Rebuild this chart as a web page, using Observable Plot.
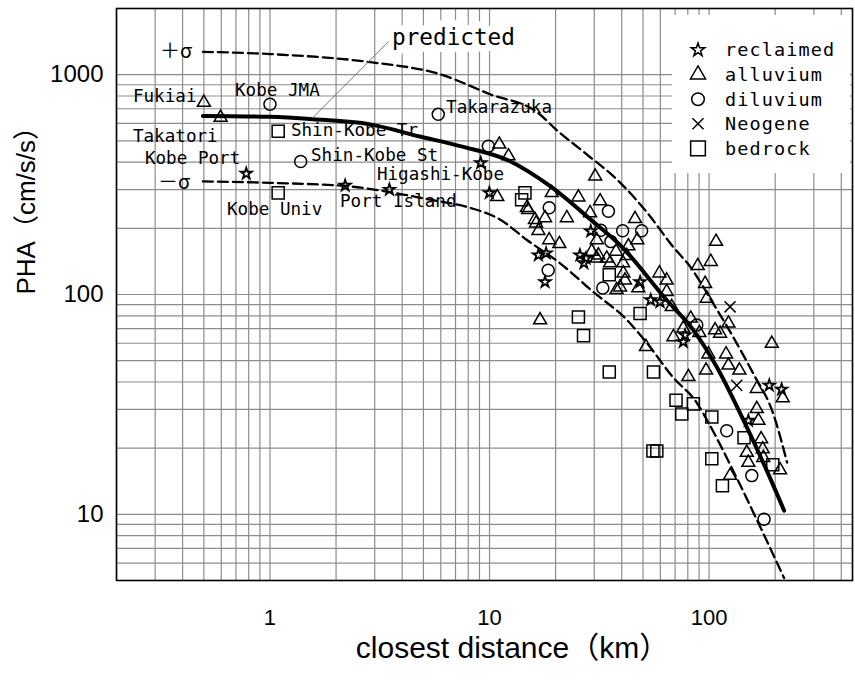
<!DOCTYPE html>
<html><head><meta charset="utf-8">
<script src="https://cdn.jsdelivr.net/npm/d3@7"></script>
<script src="https://cdn.jsdelivr.net/npm/@observablehq/plot@0.6"></script>
<style>body{margin:0;background:#fff;} svg{display:block}</style>
</head><body><div id="chart"></div>
<script>
// ---- tick / grid values ----
const xGridTicks = [0.2,0.3,0.4,0.5,0.6,0.7,0.8,0.9,1,2,3,4,5,6,7,8,9,10,20,30,40,50,60,70,80,90,100,200,300,400];
const yGridTicks = [6,7,8,9,10,20,30,40,50,60,70,80,90,100,200,300,400,500,600,700,800,900,1000];
const xTickLabels = [1,10,100];
const yTickLabels = [10,100,1000];

// ---- observed PHA by site class: [closest distance km, PHA cm/s/s] ----
const reclaimed = [[0.78,355],[2.20,313],[3.50,300],[9.12,397],[9.98,290],[28.9,194],[25.8,151],[26.9,139],[27.5,146],[16.7,151],[18.1,154],[17.9,114],[48.5,114],[54.2,94.4],[59.8,92.5],[76.3,60.9],[77.7,65.3],[151,26.7],[188,38.6],[214,37.0]];
const alluvium = [[0.50,747],[0.596,638],[11.08,482],[12.2,426],[10.85,278],[14.8,248],[16.1,219],[15.0,243],[19.2,290],[17.9,223],[16.3,211],[16.7,195],[22.5,223],[25.4,277],[30.3,345],[31.9,266],[28.7,235],[30.8,177],[46.0,221],[47.1,177],[42.9,166],[37.7,157],[30.8,146],[29.2,157],[34.2,146],[18.7,177],[20.8,170],[17.0,76.5],[40.7,125],[41.4,116],[37.9,105],[47.6,107],[59.4,125],[64.1,116],[64.1,103],[67.6,87.9],[107.6,174],[88.8,135],[101.8,141],[95.9,112],[97.6,96],[122.5,73.9],[106.5,68.9],[112.2,66.5],[193,59.8],[119.5,53.5],[122.5,47.6],[137.4,45.2],[96.9,45.2],[216.6,33.8],[164.9,37.3],[164.9,30.2],[167.8,26.7],[80.5,42.2],[51.6,57.8],[82.5,77.9],[76.3,70.2],[68.8,64.1],[90.3,66.9],[99.3,53.5],[42.2,150],[39.3,108],[35.4,139],[31.3,151],[40.6,139],[172.6,22.0],[148.5,19.1],[175.5,19.8],[151,17.2],[176.6,18.1],[210.6,15.9],[124.6,15.0]];
const diluvium = [[1.0,733],[1.38,403],[5.84,660],[9.88,473],[18.7,248],[34.8,239],[32.1,196],[35.7,174],[40.4,195],[49.3,195],[18.5,129],[32.8,107],[87.9,72.7],[120.3,24.0],[156.5,15.0],[178,9.5]];
const neogene = [[124.6,87.9],[133.7,38.6]];
const bedrock = [[1.09,553],[1.09,290],[14.5,290],[14.0,270],[25.4,79],[26.8,65],[35.1,123],[48.5,82],[35.1,44.4],[55.8,44.4],[55.5,19.4],[57.8,19.4],[70.7,33.0],[84.8,31.8],[75.1,28.6],[102.9,27.7],[144.3,22.3],[102.9,17.9],[115,13.5],[195,16.8]];

// ---- attenuation curves ----
const predicted = [[0.495,649],[1,643],[1.57,627],[2.86,594],[4.82,523],[7.34,473],[12.4,404],[18.9,311],[29.7,214],[39.3,168],[64.1,94.4],[84.8,68.9],[108.4,46.8],[148.5,24.9],[183.2,15.8],[219.6,10.4]];
const plusSigma = [[0.495,1271],[1,1241],[2.86,1140],[5.95,1005],[10.05,815],[16.5,674],[20.3,558],[27.8,433],[38.1,333],[52.2,236],[68.5,165],[81.9,134],[104.3,91.2],[128.7,64.1],[158.7,43.8],[195.7,28.8],[226.6,17.2]];
const minusSigma = [[0.495,327],[1,322],[2.24,311],[4.04,285],[5.36,270],[8.15,248],[11.2,219],[14.8,177],[20.9,139],[29.6,103],[42.3,76.5],[52.2,60.0],[68.5,42.0],[88.2,32.0],[96.9,27.3],[135.6,14.2],[174.4,8.4],[219.6,5.13]];

// ---- annotations ----
const stationLabels = [
  {name:"Fukiai", x:0.2376, y:798},
  {name:"Kobe JMA", x:0.693, y:849},
  {name:"Takatori", x:0.2376, y:523},
  {name:"Shin-Kobe Tr", x:1.246, y:558},
  {name:"Kobe Port", x:0.2695, y:416},
  {name:"Shin-Kobe St", x:1.538, y:429},
  {name:"Takarazuka", x:6.34, y:711},
  {name:"Higashi-Kobe", x:3.07, y:351},
  {name:"Kobe Univ", x:0.637, y:243},
  {name:"Port Island", x:2.084, y:265}
];
const sigmaLabels = [{name:"＋σ", x:0.3153, y:1280},{name:"－σ", x:0.309, y:323}];
const predictedLabel = [{name:"predicted", x:3.596, y:1468}];
const predictedLeader = [[1.57,638],[3.46,1411]];

const legendItems = [
  {label:"reclaimed", symbol:"star"},
  {label:"alluvium", symbol:"triangle"},
  {label:"diluvium", symbol:"circle"},
  {label:"Neogene", symbol:"times"},
  {label:"bedrock", symbol:"square"}
];

const px = d => d[0], py = d => d[1];
const mono = "'DejaVu Sans Mono', monospace";
const ptStyle = {x: px, y: py, fill: "none", stroke: "black", strokeWidth: 1.5};

const plot = Plot.plot({
  width: 855, height: 682,
  marginLeft: 116, marginRight: 3, marginTop: 8, marginBottom: 102,
  style: {fontFamily: "'Liberation Sans', Arial, 'Noto Sans CJK JP', sans-serif", background: "white", overflow: "visible"},
  x: {type: "log", domain: [0.2, 450]},
  y: {type: "log", domain: [5, 2000]},
  marks: [
    Plot.gridX({ticks: xGridTicks, stroke: "#8c8c8c", strokeOpacity: 1, strokeWidth: 1.2}),
    Plot.gridY({ticks: yGridTicks, stroke: "#8c8c8c", strokeOpacity: 1, strokeWidth: 1.2}),
    Plot.axisX({ticks: xTickLabels, tickSize: 0, tickPadding: 29, fontSize: 22, tickFormat: d => String(d), label: null}),
    Plot.axisY({ticks: yTickLabels, tickSize: 0, tickPadding: 13, fontSize: 24, tickFormat: d => String(d), label: null}),
    Plot.line(plusSigma, {x: px, y: py, stroke: "black", strokeWidth: 2.3, strokeDasharray: "10,5", curve: "monotone-x"}),
    Plot.line(minusSigma, {x: px, y: py, stroke: "black", strokeWidth: 2.3, strokeDasharray: "10,5", curve: "monotone-x"}),
    Plot.dot(alluvium, {...ptStyle, symbol: "triangle", r: 4.8}),
    Plot.dot(diluvium, {...ptStyle, symbol: "circle", r: 6}),
    Plot.dot(bedrock, {...ptStyle, symbol: "square", r: 6.8}),
    Plot.dot(neogene, {...ptStyle, symbol: "times", r: 5.1}),
    Plot.dot(reclaimed, {...ptStyle, symbol: "star", r: 3.5, strokeWidth: 1.8}),
    Plot.line(predicted, {x: px, y: py, stroke: "black", strokeWidth: 4, curve: "monotone-x"}),
    Plot.text(stationLabels, {x: "x", y: "y", text: "name", textAnchor: "start", fontFamily: mono, fontSize: 17.6, fill: "black"}),
    Plot.text(sigmaLabels, {x: "x", y: "y", text: "name", textAnchor: "start", fontFamily: "'Noto Sans CJK JP', sans-serif", fontSize: 20, fill: "black"}),
    Plot.text(predictedLabel, {x: "x", y: "y", text: "name", textAnchor: "start", fontFamily: mono, fontSize: 22.7, fill: "black", stroke: "white", strokeWidth: 14}),
    Plot.line(predictedLeader, {x: px, y: py, stroke: "#777", strokeWidth: 1}),
    Plot.text(["closest distance（km）"], {text: d => d, frameAnchor: "bottom", dy: 77, dx: 28, fontSize: 30, fill: "black"}),
    Plot.text(["PHA（cm/s/s）"], {text: d => d, frameAnchor: "left", dx: -90, dy: 0, rotate: -90, fontSize: 26, fill: "black"}),
    Plot.frame({stroke: "black", strokeWidth: 1.6})
  ]
});

document.getElementById("chart").appendChild(plot);

// ---- legend box inside the plot (top-right) ----
const s = d3.select(plot);
s.insert("rect", "[aria-label=line]").attr("x", 672).attr("y", 15).attr("width", 178).attr("height", 158).attr("fill", "white");
const symMap = {star: [d3.symbolStar, 4.2], triangle: [d3.symbolTriangle, 5.6], circle: [d3.symbolCircle, 6.3], times: [d3.symbolTimes, 5.1], square: [d3.symbolSquare, 8.3]};
const lg = s.append("g").attr("font-family", mono).attr("font-size", 18.5).attr("text-anchor", "start");
legendItems.forEach((d, i) => {
  const y = 50 + i * 24.6;
  const [sym, r] = symMap[d.symbol];
  lg.append("path").attr("d", d3.symbol(sym, Math.PI * r * r)()).attr("transform", `translate(698,${y})`)
    .attr("fill", "none").attr("stroke", "black").attr("stroke-width", 1.5);
  lg.append("text").attr("x", 725).attr("y", y).attr("dy", "0.35em").attr("text-anchor", "start").attr("letter-spacing", 1.1).attr("fill", "black").text(d.label);
});
</script></body></html>
